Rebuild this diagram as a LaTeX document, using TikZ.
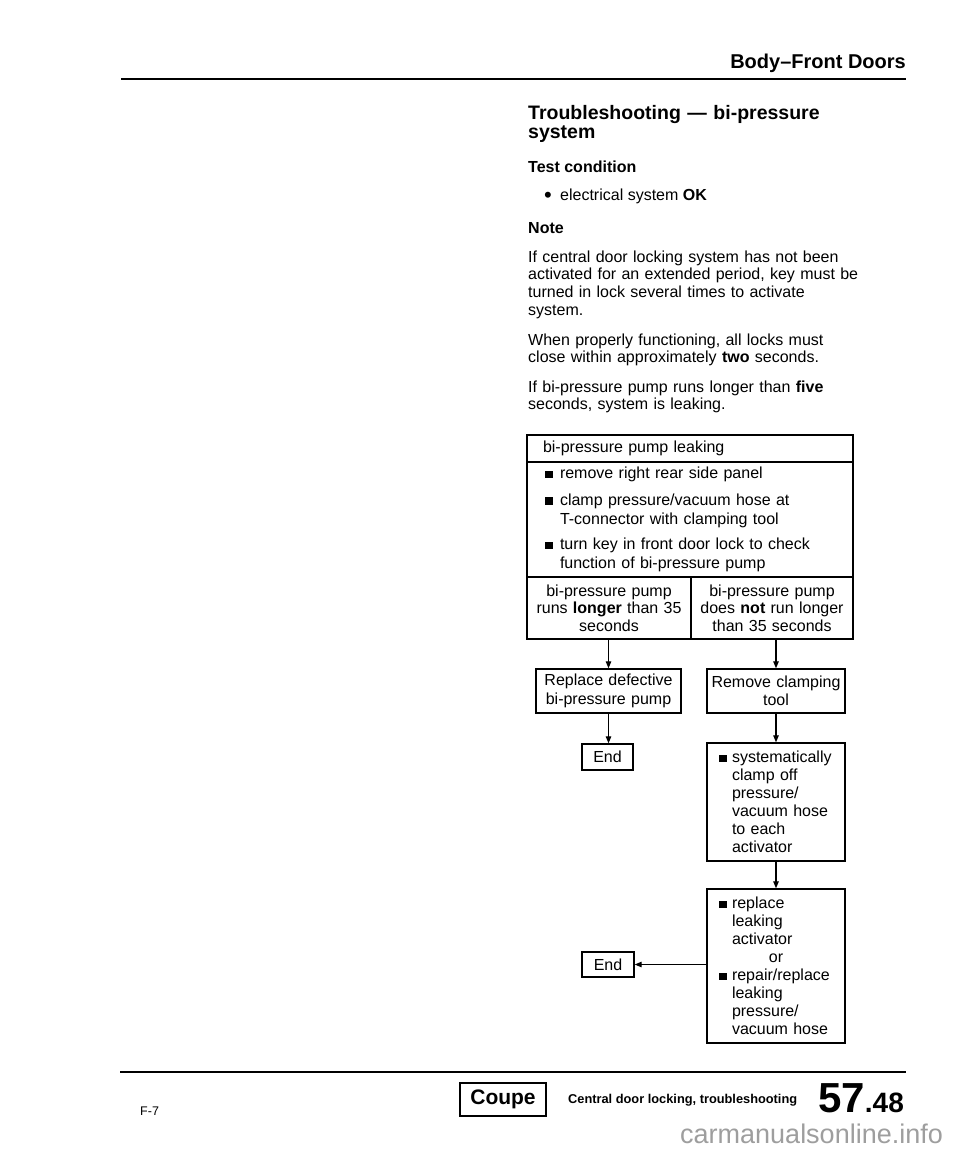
\documentclass[tikz,border=0pt]{standalone}
\usepackage{fontspec}
\setmainfont{Liberation Sans}
\usetikzlibrary{arrows.meta}
\newcommand{\sqb}{\rule[0.3pt]{7.8pt}{7.8pt}}
\newcommand{\setfs}[2]{\fontsize{#1}{#2}\selectfont}
\newcommand{\bul}{\makebox[13pt][l]{\sqb}}
\newcommand{\ind}{\hspace*{13pt}}
\begin{document}
\begin{tikzpicture}[x=1pt,y=-1pt,
  every node/.style={inner sep=0pt, font=\setfs{16}{18}},
  flowbox/.style={draw, line width=1.4pt, inner sep=0pt, align=center},
  arr/.style={line width=1.2pt, -{Triangle[length=7pt,width=5.5pt]}},
  hrule/.style={line width=2.2pt},
  para/.style={anchor=base west, text width=340pt, align=left, font=\setfs{16}{17.8}},
  bhead/.style={anchor=base west, font=\bfseries\setfs{16}{18}}]
\useasboundingbox[fill=white] (0,0) rectangle (960,1154);

% header
\coordinate (hl) at (121,79);
\coordinate (hr) at (906,79);
\draw[hrule] (hl) -- (hr);
\node[anchor=base east, font=\bfseries\setfs{20}{20}] (hdr) at (906,68) {Body–Front Doors};

% title and notes
\node[anchor=base west, text width=340pt, align=left, font=\bfseries\setfs{19.5}{19}] (title) at (528,119) {Troubleshooting — bi-pressure\\system};
\node[bhead] (tc) at (528,172) {Test condition};
\node[anchor=base west] (ok) at (544,200) {\makebox[16pt][l]{\raisebox{-2.2pt}{\setfs{22}{18}\textbullet}}electrical system \textbf{OK}};
\node[bhead] (note) at (528,233) {Note};
\node[para] (p1) at (528,262) {If central door locking system has not been\\activated for an extended period, key must be\\turned in lock several times to activate\\system.};
\node[para] (p2) at (528,345) {When properly functioning, all locks must\\close within approximately \textbf{two} seconds.};
\node[para] (p3) at (528,392) {If bi-pressure pump runs longer than \textbf{five}\\seconds, system is leaking.};

% main box
\node[flowbox, minimum width=326pt, minimum height=27pt, text width=294pt, inner xsep=16pt, align=left] (leak) at (690,448.5) {bi-pressure pump leaking};
\node[flowbox, minimum width=326pt, minimum height=115pt, text width=290pt, inner xsep=18pt, align=left, font=\setfs{16}{19}] (steps) at (690,519.5)
  {\makebox[15pt][l]{\sqb}remove right rear side panel\\[7.5pt]
   \makebox[15pt][l]{\sqb}clamp pressure/vacuum hose at\\\hspace*{15pt}T-connector with clamping tool\\[6.5pt]
   \makebox[15pt][l]{\sqb}turn key in front door lock to check\\\hspace*{15pt}function of bi-pressure pump};
\node[flowbox, minimum width=164pt, minimum height=62pt, text width=160pt, inner xsep=2pt, font=\setfs{16}{17.5}] (lng) at (609,608) {bi-pressure pump\\runs \textbf{longer} than 35\\seconds};
\node[flowbox, minimum width=162pt, minimum height=62pt, text width=158pt, inner xsep=2pt, font=\setfs{16}{17.5}] (shrt) at (772,608) {bi-pressure pump\\does \textbf{not} run longer\\than 35 seconds};

% flow boxes
\node[flowbox, minimum width=145pt, minimum height=44pt, text width=141pt, inner xsep=2pt, font=\setfs{16}{18.5}] (repl) at (608.5,691) {Replace defective\\bi-pressure pump};
\node[flowbox, minimum width=138pt, minimum height=44pt, text width=134pt, inner xsep=2pt, font=\setfs{16}{18.5}] (remv) at (776,691) {Remove clamping\\tool};
\node[flowbox, minimum width=51pt, minimum height=26pt] (end1) at (607.5,757) {End};
\node[flowbox, minimum width=138pt, minimum height=118pt, text width=114pt, inner xsep=12pt, align=left] (syst) at (776,802)
  {\bul systematically\\\ind clamp off\\\ind pressure/\\\ind vacuum hose\\\ind to each\\\ind activator};
\node[flowbox, minimum width=138pt, minimum height=154pt, text width=114pt, inner xsep=12pt, align=left] (fix) at (776,966)
  {\bul replace\\\ind leaking\\\ind activator\\\makebox[\linewidth]{or}\\\bul repair/replace\\\ind leaking\\\ind pressure/\\\ind vacuum hose};
\node[flowbox, minimum width=52pt, minimum height=25pt] (end2) at (608,964.5) {End};

% connectors
\draw[arr] (repl.north |- lng.south) -- (repl.north);
\draw[arr] (remv.north |- shrt.south) -- (remv.north);
\draw[arr] (repl.south) -- (repl.south |- end1.north);
\draw[arr] (remv.south) -- (syst.north);
\draw[arr] (syst.south) -- (fix.north);
\draw[arr] (end2.east -| fix.west) -- (end2.east);

% footer
\coordinate (fl) at (120,1072);
\coordinate (fr) at (906,1072);
\draw[line width=2pt] (fl) -- (fr);
\node[anchor=base west, font=\setfs{12.5}{12}] (f7) at (140,1115) {F-7};
\node[draw, line width=1.5pt, minimum width=86pt, minimum height=33pt, font=\bfseries\setfs{21}{21}] (coupe) at (503,1099.5) {Coupe};
\node[anchor=base west, font=\bfseries\setfs{12.8}{13}] (cdl) at (568,1103) {Central door locking, troubleshooting};
\node[anchor=base west, font=\bfseries] (pg) at (818,1112) {\setfs{42}{42}57\setfs{28}{28}.48};
\node[anchor=base west, text=black!38, font=\setfs{27}{27}] (wm) at (680,1143) {carmanualsonline.info};
\end{tikzpicture}
\end{document}
